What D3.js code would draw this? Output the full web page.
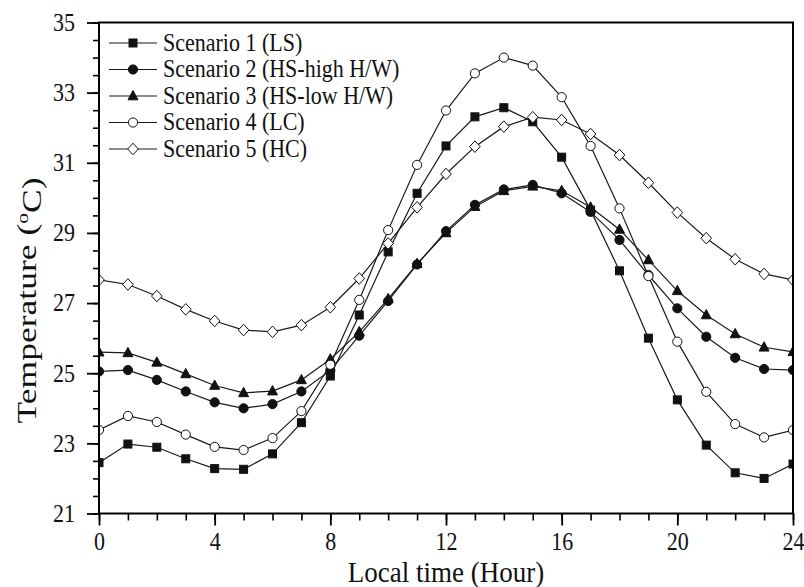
<!DOCTYPE html>
<html>
<head>
<meta charset="utf-8">
<script src="https://cdn.jsdelivr.net/npm/d3@7"></script>
<style>
  body { margin: 0; background: #fff; }
  text { font-family: "Liberation Serif", "Times New Roman", serif; fill: #111; }
</style>
</head>
<body>
<div class="output"></div>
<script>
// hours of the day
const hours = [0, 1, 2, 3, 4, 5, 6, 7, 8, 9, 10, 11, 12, 13, 14, 15, 16, 17, 18, 19, 20, 21, 22, 23, 24];

// temperatures
const scenario1 = [22.45, 22.98, 22.89, 22.56, 22.28, 22.26, 22.70, 23.59, 24.92, 26.66, 28.46, 30.13, 31.48, 32.31, 32.57, 32.17, 31.16, 29.65, 27.92, 26.00, 24.24, 22.95, 22.16, 22.00, 22.41];
const scenario2 = [25.05, 25.09, 24.81, 24.48, 24.17, 24.00, 24.12, 24.48, 25.08, 26.07, 27.06, 28.10, 29.05, 29.80, 30.24, 30.37, 30.13, 29.60, 28.80, 27.80, 26.85, 26.04, 25.44, 25.12, 25.09];
const scenario3 = [25.60, 25.58, 25.31, 24.98, 24.65, 24.44, 24.49, 24.81, 25.40, 26.18, 27.12, 28.12, 29.00, 29.75, 30.20, 30.33, 30.20, 29.73, 29.10, 28.23, 27.35, 26.66, 26.12, 25.74, 25.61];
const scenario4 = [23.38, 23.78, 23.61, 23.25, 22.90, 22.81, 23.15, 23.92, 25.24, 27.09, 29.08, 30.94, 32.49, 33.55, 34.00, 33.77, 32.87, 31.48, 29.70, 27.77, 25.90, 24.47, 23.55, 23.17, 23.38];
const scenario5 = [27.66, 27.53, 27.20, 26.82, 26.49, 26.23, 26.18, 26.37, 26.88, 27.70, 28.70, 29.73, 30.68, 31.46, 32.03, 32.30, 32.22, 31.82, 31.22, 30.43, 29.58, 28.85, 28.25, 27.83, 27.66];

const seriesNames = ["Scenario 1 (LS)", "Scenario 2 (HS-high H/W)", "Scenario 3 (HS-low H/W)", "Scenario 4 (LC)", "Scenario 5 (HC)"];
const seriesMarkers = ["square", "circle", "triangle", "openCircle", "diamond"];

const xTicks = [0, 4, 8, 12, 16, 20, 24];
const yTicks = [21, 23, 25, 27, 29, 31, 33, 35];

const series = [scenario1, scenario2, scenario3, scenario4, scenario5].map((vals, i) => ({
    name: seriesNames[i],
    marker: seriesMarkers[i],
    values: vals.map((v, j) => ({ hour: hours[j], temp: v }))
}));

const margin = { top: 22.5, right: 11, bottom: 73.5, left: 99 };
const width = 804 - margin.left - margin.right;
const height = 587 - margin.top - margin.bottom;
const stretch = "scale(1,1.12)"; // the figure's text is a bit taller than wide

const svg = d3.select(".output")
    .append("svg")
    .attr("width", 804)
    .attr("height", 587)
    .append("g")
    .attr("transform", "translate(" + margin.left + "," + margin.top + ")");

// Scales
const x = d3.scaleLinear().domain([0, 24]).range([0, width]);
const y = d3.scaleLinear().domain([21, 35]).range([height, 0]);

// Minor ticks
svg.append("g")
    .attr("transform", "translate(0," + height + ")")
    .call(d3.axisBottom(x).tickValues(hours).tickSize(7).tickFormat("").tickSizeOuter(0))
    .call(g => g.select(".domain").remove())
    .selectAll("line").attr("stroke-width", 1.6);

svg.append("g")
    .call(d3.axisLeft(y).tickValues(d3.range(21, 35.01, 0.5)).tickSize(6).tickFormat("").tickSizeOuter(0))
    .call(g => g.select(".domain").remove())
    .selectAll("line").attr("stroke-width", 1.6);

// Major ticks + labels
const xAxis = svg.append("g")
    .attr("transform", "translate(0," + height + ")")
    .call(d3.axisBottom(x).tickValues(xTicks).tickSize(12).tickPadding(5).tickSizeOuter(0));
xAxis.select(".domain").remove();
xAxis.selectAll("line").attr("stroke-width", 1.8);
xAxis.selectAll("text").style("font-size", "22px").attr("fill", "#111").attr("transform", stretch);

const yAxis = svg.append("g")
    .call(d3.axisLeft(y).tickValues(yTicks).tickSize(12).tickPadding(12).tickSizeOuter(0));
yAxis.select(".domain").remove();
yAxis.selectAll("line").attr("stroke-width", 1.8);
yAxis.selectAll("text").style("font-size", "22px").attr("fill", "#111").attr("transform", stretch);

// Clip
svg.append("clipPath").attr("id", "plot-clip")
    .append("rect").attr("width", width).attr("height", height);

function drawMarker(sel, kind) {
    const filled = kind === "square" || kind === "circle" || kind === "triangle";
    let m;
    if (kind === "square") {
        m = sel.append("rect").attr("x", -4).attr("y", -4).attr("width", 8).attr("height", 8);
    } else if (kind === "circle" || kind === "openCircle") {
        m = sel.append("circle").attr("r", 4.6);
    } else if (kind === "triangle") {
        m = sel.append("path").attr("d", "M0,-5.5L5,3.8L-5,3.8Z");
    } else {
        m = sel.append("path").attr("d", "M0,-5.8L5.3,0L0,5.8L-5.3,0Z");
    }
    m.attr("fill", filled ? "#111" : "#fff")
        .attr("stroke", "#111")
        .attr("stroke-width", 1);
}

const plot = svg.append("g").attr("clip-path", "url(#plot-clip)");

const line = d3.line()
    .x(d => x(d.hour))
    .y(d => y(d.temp));

plot.selectAll(".series-line")
    .data(series)
    .enter()
    .append("path")
    .attr("d", d => line(d.values))
    .attr("fill", "none")
    .attr("stroke", "#1a1a1a")
    .attr("stroke-width", 1.2);

series.forEach(s => {
    plot.append("g")
        .selectAll("g")
        .data(s.values)
        .enter()
        .append("g")
        .attr("transform", d => "translate(" + x(d.hour) + "," + y(d.temp) + ")")
        .each(function () { drawMarker(d3.select(this), s.marker); });
});

// Frame
svg.append("rect")
    .attr("width", width)
    .attr("height", height)
    .attr("fill", "none")
    .attr("stroke", "#000")
    .attr("stroke-width", 2);

// Legend
const legend = svg.append("g").attr("transform", "translate(10,20.5)");
series.forEach((s, i) => {
    const row = legend.append("g").attr("transform", "translate(0," + (i * 26.5) + ")");
    row.append("line")
        .attr("x1", 0).attr("x2", 48)
        .attr("stroke", "#1a1a1a").attr("stroke-width", 1.2);
    drawMarker(row.append("g").attr("transform", "translate(24,0)"), s.marker);
    row.append("text")
        .attr("x", 54)
        .attr("dy", "0.32em")
        .attr("transform", stretch)
        .style("font-size", "22px")
        .text(s.name);
});

// Axis titles
svg.append("text")
    .attr("transform", "translate(" + (width / 2) + "," + (height + 68) + ") " + stretch)
    .attr("text-anchor", "middle")
    .style("font-size", "27px")
    .text("Local time (Hour)");

const yTitle = svg.append("text")
    .attr("transform", "translate(" + (-63) + "," + (278) + ") rotate(-90)")
    .attr("text-anchor", "middle")
    .attr("textLength", 246)
    .attr("lengthAdjust", "spacingAndGlyphs")
    .style("font-size", "28px");
yTitle.append("tspan").text("Temperature (");
yTitle.append("tspan").attr("dy", "-0.45em").style("font-size", "17px").text("o");
yTitle.append("tspan").attr("dy", "0.45em").text("C)");
</script>
</body>
</html>
